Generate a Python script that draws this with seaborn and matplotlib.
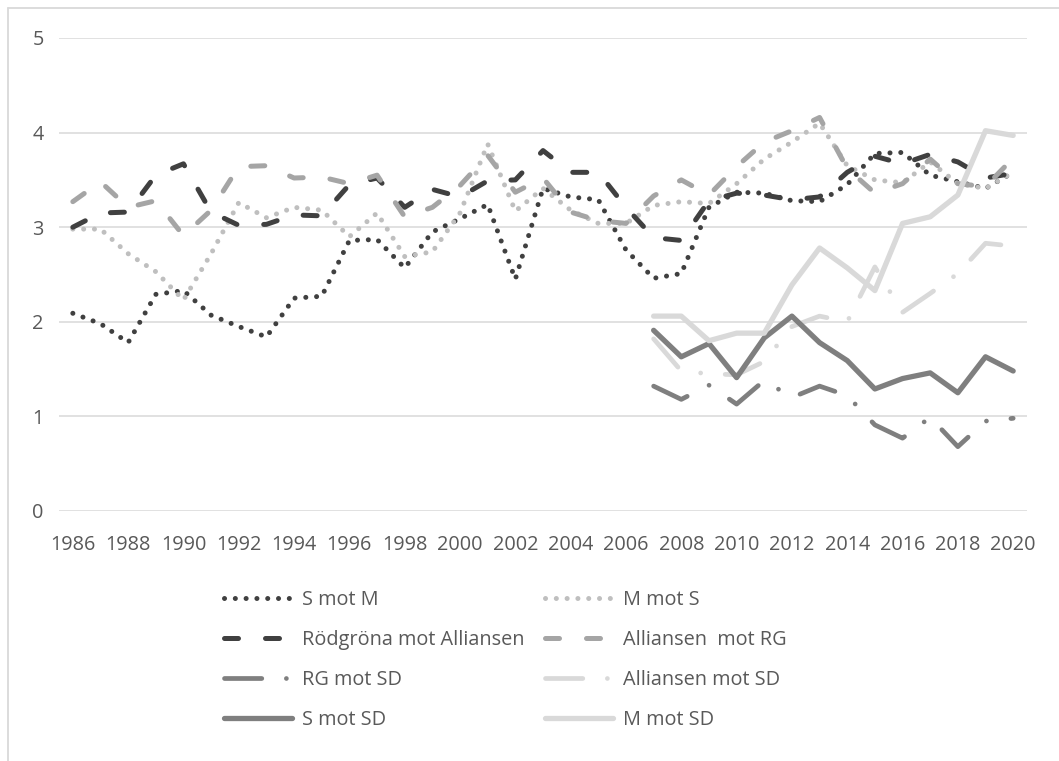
import matplotlib
matplotlib.use("Agg")
import matplotlib.pyplot as plt
import seaborn as sns
import pandas as pd
from matplotlib.lines import Line2D

years = list(range(1986, 2021))
years_sd = list(range(2007, 2021))

s_mot_m = [2.09, 1.98, 1.78, 2.29, 2.33, 2.07, 1.95, 1.84, 2.25, 2.27,
           2.86, 2.87, 2.57, 2.95, 3.09, 3.24, 2.45, 3.41, 3.32, 3.29,
           2.76, 2.46, 2.51, 3.21, 3.37, 3.36, 3.28, 3.27, 3.45, 3.78,
           3.79, 3.55, 3.48, 3.41, 3.58]
m_mot_s = [2.98, 2.98, 2.72, 2.53, 2.23, 2.72, 3.26, 3.10, 3.21, 3.18,
           2.90, 3.15, 2.69, 2.74, 3.15, 3.88, 3.17, 3.41, 3.18, 3.04,
           3.04, 3.23, 3.27, 3.25, 3.46, 3.72, 3.90, 4.10, 3.65, 3.50,
           3.47, 3.69, 3.46, 3.41, 3.58]
rg_mot_all = [3.00, 3.15, 3.16, 3.55, 3.67, 3.16, 3.02, 3.03, 3.13, 3.12,
              3.45, 3.52, 3.21, 3.40, 3.32, 3.49, 3.50, 3.81, 3.58, 3.58,
              3.21, 2.89, 2.86, 3.28, 3.36, 3.34, 3.29, 3.32, 3.58, 3.75,
              3.67, 3.77, 3.69, 3.52, 3.57]
all_mot_rg = [3.27, 3.48, 3.21, 3.28, 2.91, 3.18, 3.64, 3.65, 3.52, 3.53,
              3.46, 3.55, 3.11, 3.21, 3.44, 3.76, 3.37, 3.52, 3.16, 3.07,
              3.04, 3.33, 3.50, 3.34, 3.64, 3.90, 4.02, 4.16, 3.62, 3.36,
              3.46, 3.72, 3.46, 3.43, 3.73]
rg_mot_sd = [1.32, 1.18, 1.33, 1.13, 1.38, 1.20, 1.32, 1.22, 0.91, 0.77,
             0.99, 0.68, 0.95, 0.98]
all_mot_sd = [1.82, 1.48, 1.45, 1.44, 1.58, 1.95, 2.06, 2.00, 2.58, 2.10,
              2.30, 2.51, 2.83, 2.80]
s_mot_sd = [1.91, 1.63, 1.77, 1.41, 1.83, 2.06, 1.78, 1.59, 1.29, 1.40,
            1.46, 1.25, 1.63, 1.48]
m_mot_sd = [2.06, 2.06, 1.80, 1.88, 1.88, 2.39, 2.78, 2.57, 2.33, 3.04,
            3.11, 3.34, 4.02, 3.97]

names = ["S mot M", "M mot S", "Rödgröna mot Alliansen", "Alliansen  mot RG",
         "RG mot SD", "Alliansen mot SD", "S mot SD", "M mot SD"]
y_ticks = [0, 1, 2, 3, 4, 5]
x_ticks = list(range(1986, 2021, 2))

DOT = (0, (0.01, 2.15))
DASH = (0, (2.8, 5.4))
LDD = (0, (7.9, 5.2, 0.01, 5.2))
styles = [
    ("#404040", 3.6, DOT),
    ("#BFBFBF", 3.6, DOT),
    ("#404040", 3.6, DASH),
    ("#A5A5A5", 3.6, DASH),
    ("#7F7F7F", 3.4, LDD),
    ("#D9D9D9", 3.4, LDD),
    ("#7F7F7F", 3.8, "-"),
    ("#D9D9D9", 3.8, "-"),
]
data = [(years, s_mot_m), (years, m_mot_s), (years, rg_mot_all), (years, all_mot_rg),
        (years_sd, rg_mot_sd), (years_sd, all_mot_sd), (years_sd, s_mot_sd), (years_sd, m_mot_sd)]

sns.set_theme(style="white")
plt.rcParams['font.family'] = ['Open Sans', 'DejaVu Sans']
TXT = "#595959"
FS = 14.3

W, H = 1059, 761
fig = plt.figure(figsize=(W / 100, H / 100), dpi=100)
ax = fig.add_axes([59 / W, 1 - 511 / H, (1027 - 59) / W, (511 - 38) / H])

handles = []
for name, (xs, ys), (col, lw, ls) in zip(names, data, styles):
    df = pd.DataFrame({"year": xs, "value": ys})
    sns.lineplot(data=df, x="year", y="value", ax=ax, color=col, lw=lw,
                 linestyle=ls, dash_capstyle="round", solid_capstyle="round",
                 solid_joinstyle="round", dash_joinstyle="round", legend=False)
    handles.append(Line2D([], [], color=col, lw=lw, linestyle=ls,
                          dash_capstyle="round", solid_capstyle="round"))

ax.set_xlim(1985.5, 2020.5)
ax.set_ylim(0, 5)
ax.set_xticks(x_ticks)
ax.set_xticklabels([str(t) for t in x_ticks])
ax.set_yticks(y_ticks)
ax.set_yticklabels([str(t) for t in y_ticks])
ax.set_xlabel("")
ax.set_ylabel("")
ax.yaxis.grid(True, color="#D9D9D9", lw=1.1)
ax.xaxis.grid(False)
ax.set_axisbelow(True)
for s in ax.spines.values():
    s.set_visible(False)
ax.tick_params(axis="y", length=0, pad=11, labelsize=FS, labelcolor=TXT)
ax.tick_params(axis="x", length=0, pad=17.5, labelsize=FS, labelcolor=TXT)

leg_kw = dict(frameon=False, fontsize=FS, labelcolor=TXT, handlelength=3.4,
              handletextpad=0.55, labelspacing=1.0, borderpad=0, borderaxespad=0,
              loc="upper left")
leg1 = fig.legend([handles[i] for i in (0, 2, 4, 6)], [names[i] for i in (0, 2, 4, 6)],
                  bbox_to_anchor=(224 / W, 1 - 590 / H), **leg_kw)
leg2 = fig.legend([handles[i] for i in (1, 3, 5, 7)], [names[i] for i in (1, 3, 5, 7)],
                  bbox_to_anchor=(545 / W, 1 - 590 / H), **leg_kw)

fig.add_artist(Line2D([8 / W, 8 / W], [0, 1 - 8 / H], transform=fig.transFigure,
                      color="#D9D9D9", lw=1.3))
fig.add_artist(Line2D([8 / W, 1], [1 - 8 / H, 1 - 8 / H], transform=fig.transFigure,
                      color="#D9D9D9", lw=1.3))

fig.savefig("out.png", dpi=100, facecolor="white")
